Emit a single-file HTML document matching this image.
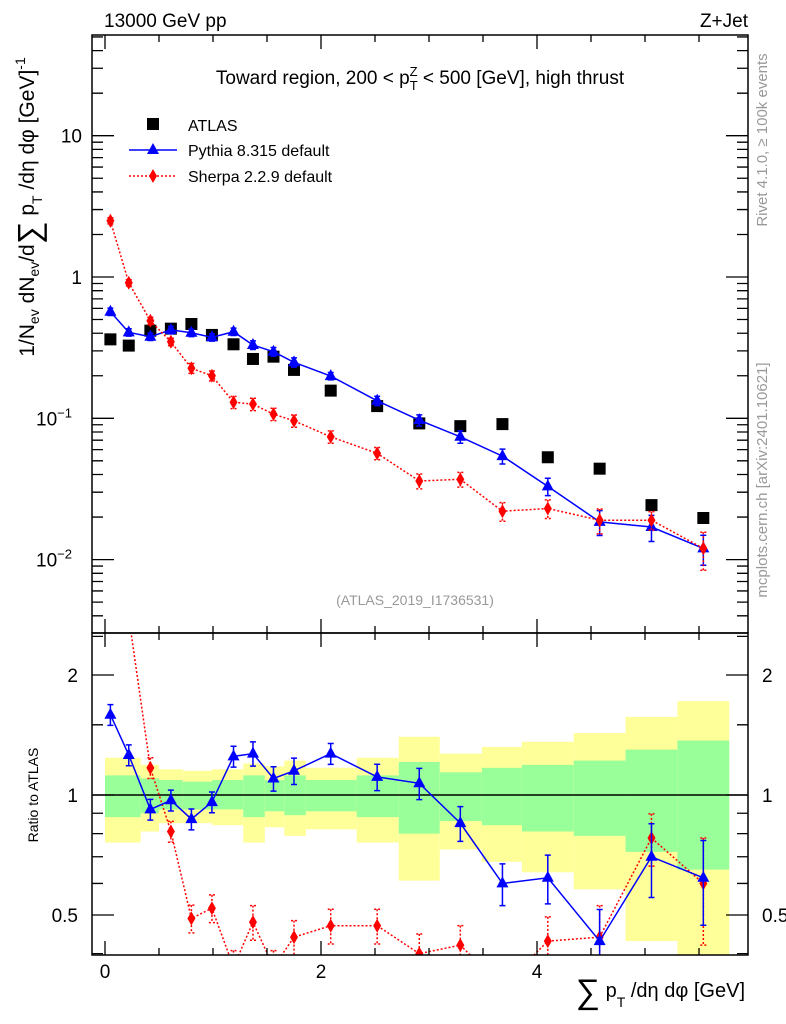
<!DOCTYPE html>
<html><head><meta charset="utf-8"><style>
body{margin:0;background:#fff}
svg{display:block;font-family:"Liberation Sans",sans-serif}
</style></head><body>
<svg id="c" width="786" height="1024" viewBox="0 0 786 1024">
<defs>
<clipPath id="cm"><rect x="92" y="35" width="656" height="598"/></clipPath>
<clipPath id="cr"><rect x="92" y="633" width="656" height="322"/></clipPath>
</defs>
<g id="bands" clip-path="url(#cr)"></g>
<line x1="92" y1="795" x2="748" y2="795" stroke="#000" stroke-width="1.5"/>
<g id="main" clip-path="url(#cm)"></g>
<g id="ratio" clip-path="url(#cr)"></g>
<g id="axes"></g>
<rect x="92" y="35" width="656" height="598" fill="none" stroke="#000" stroke-width="1.5"/>
<rect x="92" y="633" width="656" height="322" fill="none" stroke="#000" stroke-width="1.5"/>
<text x="104" y="27" font-size="19">13000 GeV pp</text>
<text x="748" y="27" font-size="19" text-anchor="end">Z+Jet</text>
<text x="420" y="84" font-size="19" text-anchor="middle">Toward region, 200 &lt; p<tspan font-size="13" dy="6">T</tspan><tspan font-size="13" dx="-8" dy="-14">Z</tspan><tspan dy="8"> &lt; 500 [GeV], high thrust</tspan></text>
<g>
<rect x="147" y="118" width="12" height="12" fill="#000"/>
<text x="188" y="131" font-size="16">ATLAS</text>
<line x1="129" y1="150" x2="177" y2="150" stroke="#0000ff" stroke-width="1.5"/>
<path d="M153,143 L159,154 L147,154 Z" fill="#0000ff"/>
<text x="188" y="156" font-size="16">Pythia 8.315 default</text>
<line x1="129" y1="176" x2="177" y2="176" stroke="#ff0000" stroke-width="1.5" stroke-dasharray="2,2"/>
<path d="M153,169 L157,176 L153,183 L149,176 Z" fill="#ff0000"/>
<text x="188" y="182" font-size="16">Sherpa 2.2.9 default</text>
</g>
<text x="415" y="605" font-size="14" fill="#999" text-anchor="middle">(ATLAS_2019_I1736531)</text>
<text transform="translate(767,140) rotate(-90)" font-size="15" fill="#999" text-anchor="middle">Rivet 4.1.0, ≥ 100k events</text>
<text transform="translate(767,480) rotate(-90)" font-size="15" fill="#999" text-anchor="middle">mcplots.cern.ch [arXiv:2401.10621]</text>
<text transform="translate(34,207) rotate(-90)" font-size="21" text-anchor="middle">1/N<tspan font-size="14" dy="5">ev</tspan><tspan dy="-5"> dN</tspan><tspan font-size="14" dy="5">ev</tspan><tspan dy="-5">/d</tspan><tspan font-size="32" dy="6">∑</tspan><tspan dy="-6"> p</tspan><tspan font-size="14" dy="8">T</tspan><tspan dy="-8"> /dη dφ  [GeV]</tspan><tspan font-size="14" dy="-9">-1</tspan></text>
<text transform="translate(38,795) rotate(-90)" font-size="14" text-anchor="middle">Ratio to ATLAS</text>
<text x="745" y="997" font-size="20" text-anchor="end"><tspan font-size="34" dy="6">∑</tspan><tspan dy="-6"> p</tspan><tspan font-size="14" dy="10">T</tspan><tspan dy="-10"> /dη dφ [GeV]</tspan></text>
</svg>
<script>
const xVals=[0.05,0.22,0.42,0.61,0.80,0.99,1.19,1.37,1.56,1.75,2.09,2.52,2.91,3.29,3.68,4.10,4.58,5.06,5.54];
const atlasVals=[0.362,0.327,0.417,0.431,0.465,0.389,0.334,0.263,0.273,0.22,0.157,0.122,0.092,0.088,0.091,0.053,0.044,0.0243,0.0197];
const pythiaVals=[0.568,0.406,0.378,0.422,0.403,0.374,0.41,0.330,0.296,0.249,0.199,0.133,0.097,0.074,0.054,0.033,0.0185,0.017,0.012];
const sherpaVals=[2.5,0.91,0.49,0.348,0.226,0.2,0.13,0.126,0.107,0.096,0.074,0.0565,0.036,0.037,0.022,0.023,0.019,0.019,0.012];
const pythiaRatio=[1.59,1.26,0.92,0.97,0.87,0.96,1.25,1.27,1.10,1.15,1.27,1.11,1.07,0.85,0.60,0.62,0.43,0.70,0.62];
const sherpaRatio=[6.9,2.8,1.17,0.81,0.49,0.52,0.37,0.48,0.37,0.44,0.47,0.47,0.40,0.42,0.33,0.43,0.44,0.78,0.60];
const pythiaErr=[0.06,0.06,0.06,0.06,0.06,0.06,0.06,0.07,0.07,0.076,0.06,0.076,0.09,0.10,0.12,0.14,0.2,0.21,0.24];
const sherpaErr=[0.05,0.05,0.06,0.06,0.08,0.08,0.1,0.1,0.1,0.1,0.1,0.1,0.12,0.12,0.15,0.15,0.2,0.15,0.3];
const bandEdges=[0,0.33,0.50,0.72,0.99,1.28,1.48,1.66,1.86,2.33,2.72,3.10,3.49,3.86,4.34,4.82,5.30,5.78];
const yelHi=[1.24,1.19,1.16,1.15,1.16,1.20,1.18,1.22,1.17,1.24,1.40,1.27,1.32,1.36,1.43,1.57,1.72];
const grnHi=[1.12,1.10,1.09,1.08,1.09,1.12,1.09,1.12,1.09,1.12,1.21,1.14,1.17,1.19,1.22,1.30,1.37];
const grnLo=[0.88,0.90,0.92,0.92,0.92,0.88,0.91,0.89,0.91,0.88,0.80,0.86,0.84,0.81,0.79,0.72,0.65];
const yelLo=[0.76,0.81,0.85,0.85,0.84,0.76,0.83,0.79,0.82,0.76,0.61,0.73,0.68,0.64,0.58,0.43,0.38];
const xTicks=[0,2,4];
const mainTicks=[[10,"10"],[1,"1"],[0.1,"10"],[0.01,"10"]];
const ratioTicks=[[2,"2"],[1,"1"],[0.5,"0.5"]];

const NS="http://www.w3.org/2000/svg";
const xs=v=>105+108*v;
const ym=v=>277-141.3*Math.log10(v);
const yr=v=>795-120*Math.log2(v);
function mk(tag,parent,attrs){const e=document.createElementNS(NS,tag);for(const k in attrs)e.setAttribute(k,attrs[k]);parent.appendChild(e);return e;}
const gB=document.getElementById('bands'),gM=document.getElementById('main'),gR=document.getElementById('ratio'),gA=document.getElementById('axes');

for(let i=0;i<yelHi.length;i++){
  const x0=xs(bandEdges[i]),w=xs(bandEdges[i+1])-x0;
  let r=mk('rect',gB,{x:x0,y:yr(yelHi[i]),width:w,height:yr(yelLo[i])-yr(yelHi[i]),fill:'#ffff99'});
  
  
  r=mk('rect',gB,{x:x0,y:yr(grnHi[i]),width:w,height:yr(grnLo[i])-yr(grnHi[i]),fill:'#99ff99'});
  
  
}

function series(g,vals,errs,yf,color,dash,shape,name){
  const pts=xVals.map((x,i)=>xs(x)+','+yf(vals[i])).join(' ');
  const pl=mk('polyline',g,{points:pts,fill:'none',stroke:color,'stroke-width':1.5});
  if(dash)pl.setAttribute('stroke-dasharray','2,2');
  
  
  xVals.forEach((x,i)=>{
    const cx=xs(x),v=vals[i];
    if(errs){
      const e=mk('path',g,{d:`M${cx},${yf(v*(1+errs[i]))}V${yf(v*(1-errs[i]))}M${cx-3},${yf(v*(1+errs[i]))}h6M${cx-3},${yf(v*(1-errs[i]))}h6`,stroke:color,'stroke-width':1.5,fill:'none'});
      if(dash)e.setAttribute('stroke-dasharray','2,2');
    }
    const cy=yf(v);let m;
    if(shape==='sq')m=mk('rect',g,{x:cx-6,y:cy-6,width:12,height:12,fill:color});
    else if(shape==='tri')m=mk('path',g,{d:`M${cx},${cy-7}L${cx+6},${cy+4}L${cx-6},${cy+4}Z`,fill:color});
    else m=mk('path',g,{d:`M${cx},${cy-7}L${cx+4},${cy}L${cx},${cy+7}L${cx-4},${cy}Z`,fill:color});
    
    
  });
}
xVals.forEach((x,i)=>{const m=mk('rect',gM,{x:xs(x)-6,y:ym(atlasVals[i])-6,width:12,height:12,fill:'#000'});
  
  });
series(gM,pythiaVals,pythiaErr,ym,'#0000ff',false,'tri','pythia');
series(gM,sherpaVals,sherpaErr,ym,'#ff0000',true,'dia','sherpa');
series(gR,sherpaRatio,sherpaErr,yr,'#ff0000',true,'dia','sherpa-ratio');
series(gR,pythiaRatio,pythiaErr,yr,'#0000ff',false,'tri','pythia-ratio');

let d='';
for(let dec=-3;dec<=1;dec++)for(let k=1;k<10;k++){const v=k*Math.pow(10,dec);const y=ym(v);if(y<35||y>633)continue;const L=k===1?22:11;d+=`M92,${y}h${L}M748,${y}h${-L}`;}
[0.4,0.5,0.6,0.7,0.8,0.9,1,1.5,2,2.5].forEach(v=>{const y=yr(v);const L=(v===0.5||v===1||v===2)?22:11;d+=`M92,${y}h${L}M748,${y}h${-L}`;});
for(let v=0;v<=6;v+=0.5){const x=xs(v);if(x>748)continue;const L=(v%2===0)?14:7;d+=`M${x},955v${-L}M${x},633v${L}M${x},633v${-L}M${x},35v${L}`;}
mk('path',gA,{d:d,stroke:'#000','stroke-width':1.3,fill:'none'});
mainTicks.forEach(([v,l],i)=>{const t=mk('text',gA,{x:i>=2?72:82,y:ym(v)+7,'font-size':19,'text-anchor':'end'});t.textContent=l;
  
  
  if(i>=2){const s=mk('tspan',t,{'font-size':13,dy:-8});s.textContent=i===2?'−1':'−2';}});
ratioTicks.forEach(([v,l])=>{[[78,'end'],[762,'start']].forEach(([x,a])=>{const t=mk('text',gA,{x:x,y:yr(v)+7,'font-size':19,'text-anchor':a});t.textContent=l;
  
  });});
xTicks.forEach(v=>{const t=mk('text',gA,{x:xs(v),y:978,'font-size':19,'text-anchor':'middle'});t.textContent=v;
  
  });
</script>
</body></html>
